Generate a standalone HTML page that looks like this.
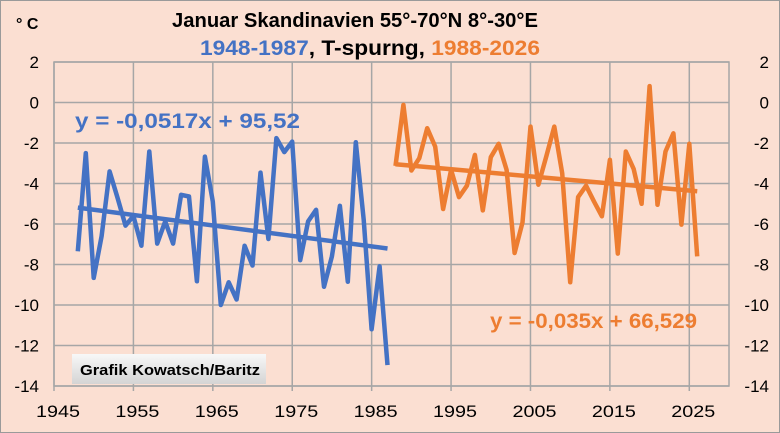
<!DOCTYPE html>
<html><head><meta charset="utf-8"><style>
body{margin:0;background:#fbdfd2;}
svg{display:block;font-family:"Liberation Sans",sans-serif;}
</style></head><body>
<svg id="c" width="780" height="433" viewBox="0 0 780 433">
<defs><linearGradient id="g" x1="0" y1="0" x2="0" y2="1"><stop offset="0" stop-color="#f8f8f8"/><stop offset="1" stop-color="#d4d4d4"/></linearGradient></defs>
<rect x="0.5" y="0.5" width="779" height="432" fill="#fbdfd2" stroke="#9a9a9a"/>
<g id="grid"></g>
<g id="ylab"></g>
<g id="xlab"></g>
<g id="series"></g>
<text x="16" y="29" font-size="16" font-weight="bold" fill="#000">° C</text>
<text x="172" y="27" font-size="20" font-weight="bold" fill="#000" textLength="366" lengthAdjust="spacingAndGlyphs">Januar Skandinavien 55°-70°N 8°-30°E</text>
<text x="200" y="55" font-size="21" font-weight="bold" textLength="340" lengthAdjust="spacingAndGlyphs"><tspan fill="#4472c4">1948-1987</tspan><tspan fill="#000">, T-spurng, </tspan><tspan fill="#ed7d31">1988-2026</tspan></text>
<text x="75" y="128" font-size="21" font-weight="bold" fill="#4472c4" textLength="225" lengthAdjust="spacingAndGlyphs">y = -0,0517x + 95,52</text>
<text x="490" y="328" font-size="21" font-weight="bold" fill="#ed7d31" textLength="207" lengthAdjust="spacingAndGlyphs">y = -0,035x + 66,529</text>
<rect x="72" y="354" width="194" height="30" fill="url(#g)"/>
<text x="80" y="375" font-size="15" font-weight="bold" fill="#000" textLength="180" lengthAdjust="spacingAndGlyphs">Grafik Kowatsch/Baritz</text>
</svg>
<script>
const blueYears0 = 1948;
const blueValues = [-7.35,-2.5,-8.66,-6.6,-3.4,-4.7,-6.08,-5.6,-7.07,-2.42,-6.97,-5.87,-6.97,-4.56,-4.64,-8.83,-2.67,-4.89,-10.0,-8.88,-9.73,-7.07,-8.05,-3.46,-6.74,-1.76,-2.45,-1.93,-7.79,-5.87,-5.3,-9.1,-7.6,-5.1,-8.85,-1.96,-5.79,-11.2,-8.09,-12.97];
const orangeYears0 = 1988;
const orangeValues = [-3.13,-0.12,-3.36,-2.75,-1.27,-2.18,-5.26,-3.33,-4.67,-4.11,-2.59,-5.33,-2.7,-2.04,-3.33,-7.43,-5.92,-1.19,-4.06,-2.64,-1.19,-3.49,-8.88,-4.67,-4.11,-4.89,-5.62,-2.83,-7.46,-2.42,-3.29,-5.0,0.81,-5.05,-2.42,-1.52,-6.03,-2.04,-7.6];
const blueTrend = [-0.0517, 95.52];
const orangeTrend = [-0.035, 66.529];
const yTicks = [2,0,-2,-4,-6,-8,-10,-12,-14];
const xTicks = [1945,1955,1965,1975,1985,1995,2005,2015,2025];

const NS='http://www.w3.org/2000/svg';
const X0=54, X1=729, Y0=62, Y1=386;
const xs = yr => X0 + (yr-1945)*(X1-X0)/85;
const ys = v => Y0 + (2-v)*(Y1-Y0)/16;
function mk(tag, attrs, parent){const e=document.createElementNS(NS,tag);for(const k in attrs)e.setAttribute(k,attrs[k]);parent.appendChild(e);return e;}
const grid=document.getElementById('grid'), yl=document.getElementById('ylab'), xl=document.getElementById('xlab'), ser=document.getElementById('series');
mk('rect',{x:X0,y:Y0,width:X1-X0,height:Y1-Y0,fill:'none',stroke:'#a6a6a6','stroke-width':1.5},grid);
yTicks.forEach(t=>{
  const l=mk('line',{x1:X0,x2:X1,y1:ys(t),y2:ys(t),stroke:'#a6a6a6','stroke-width':1.5},grid);
  
  
  const a=mk('text',{x:39,y:ys(t)+6,'font-size':17,'text-anchor':'end',fill:'#000'},yl);a.textContent=t;
  
  
  const b=mk('text',{x:769,y:ys(t)+6,'font-size':17,'text-anchor':'end',fill:'#000'},yl);b.textContent=t;
  
  
});
xTicks.forEach(t=>{
  const l=mk('line',{x1:xs(t),x2:xs(t),y1:Y0,y2:Y1+5,stroke:'#a6a6a6','stroke-width':1.5},grid);
  
  
  const a=mk('text',{x:xs(t)+4,y:417,'font-size':17,'text-anchor':'middle',fill:'#000',textLength:44,lengthAdjust:'spacingAndGlyphs'},xl);a.textContent=t;
  
  
});
function line(vals,y0,color,name){
  const pts=vals.map((v,i)=>xs(y0+i).toFixed(1)+','+ys(v).toFixed(1)).join(' ');
  const p=mk('polyline',{points:pts,fill:'none',stroke:color,'stroke-width':4.5,'stroke-linejoin':'round'},ser);
  
  
}
function trend(tr,a,b,color,name){
  const l=mk('line',{x1:xs(a),y1:ys(tr[0]*a+tr[1]),x2:xs(b),y2:ys(tr[0]*b+tr[1]),stroke:color,'stroke-width':4.5},ser);
  
  
}
line(blueValues,blueYears0,'#4472c4','blue-series-line');
line(orangeValues,orangeYears0,'#ed7d31','orange-series-line');
trend(blueTrend,blueYears0,blueYears0+blueValues.length-1,'#4472c4','blue-trend-line');
trend(orangeTrend,orangeYears0,orangeYears0+orangeValues.length-1,'#ed7d31','orange-trend-line');
</script>
</body></html>
